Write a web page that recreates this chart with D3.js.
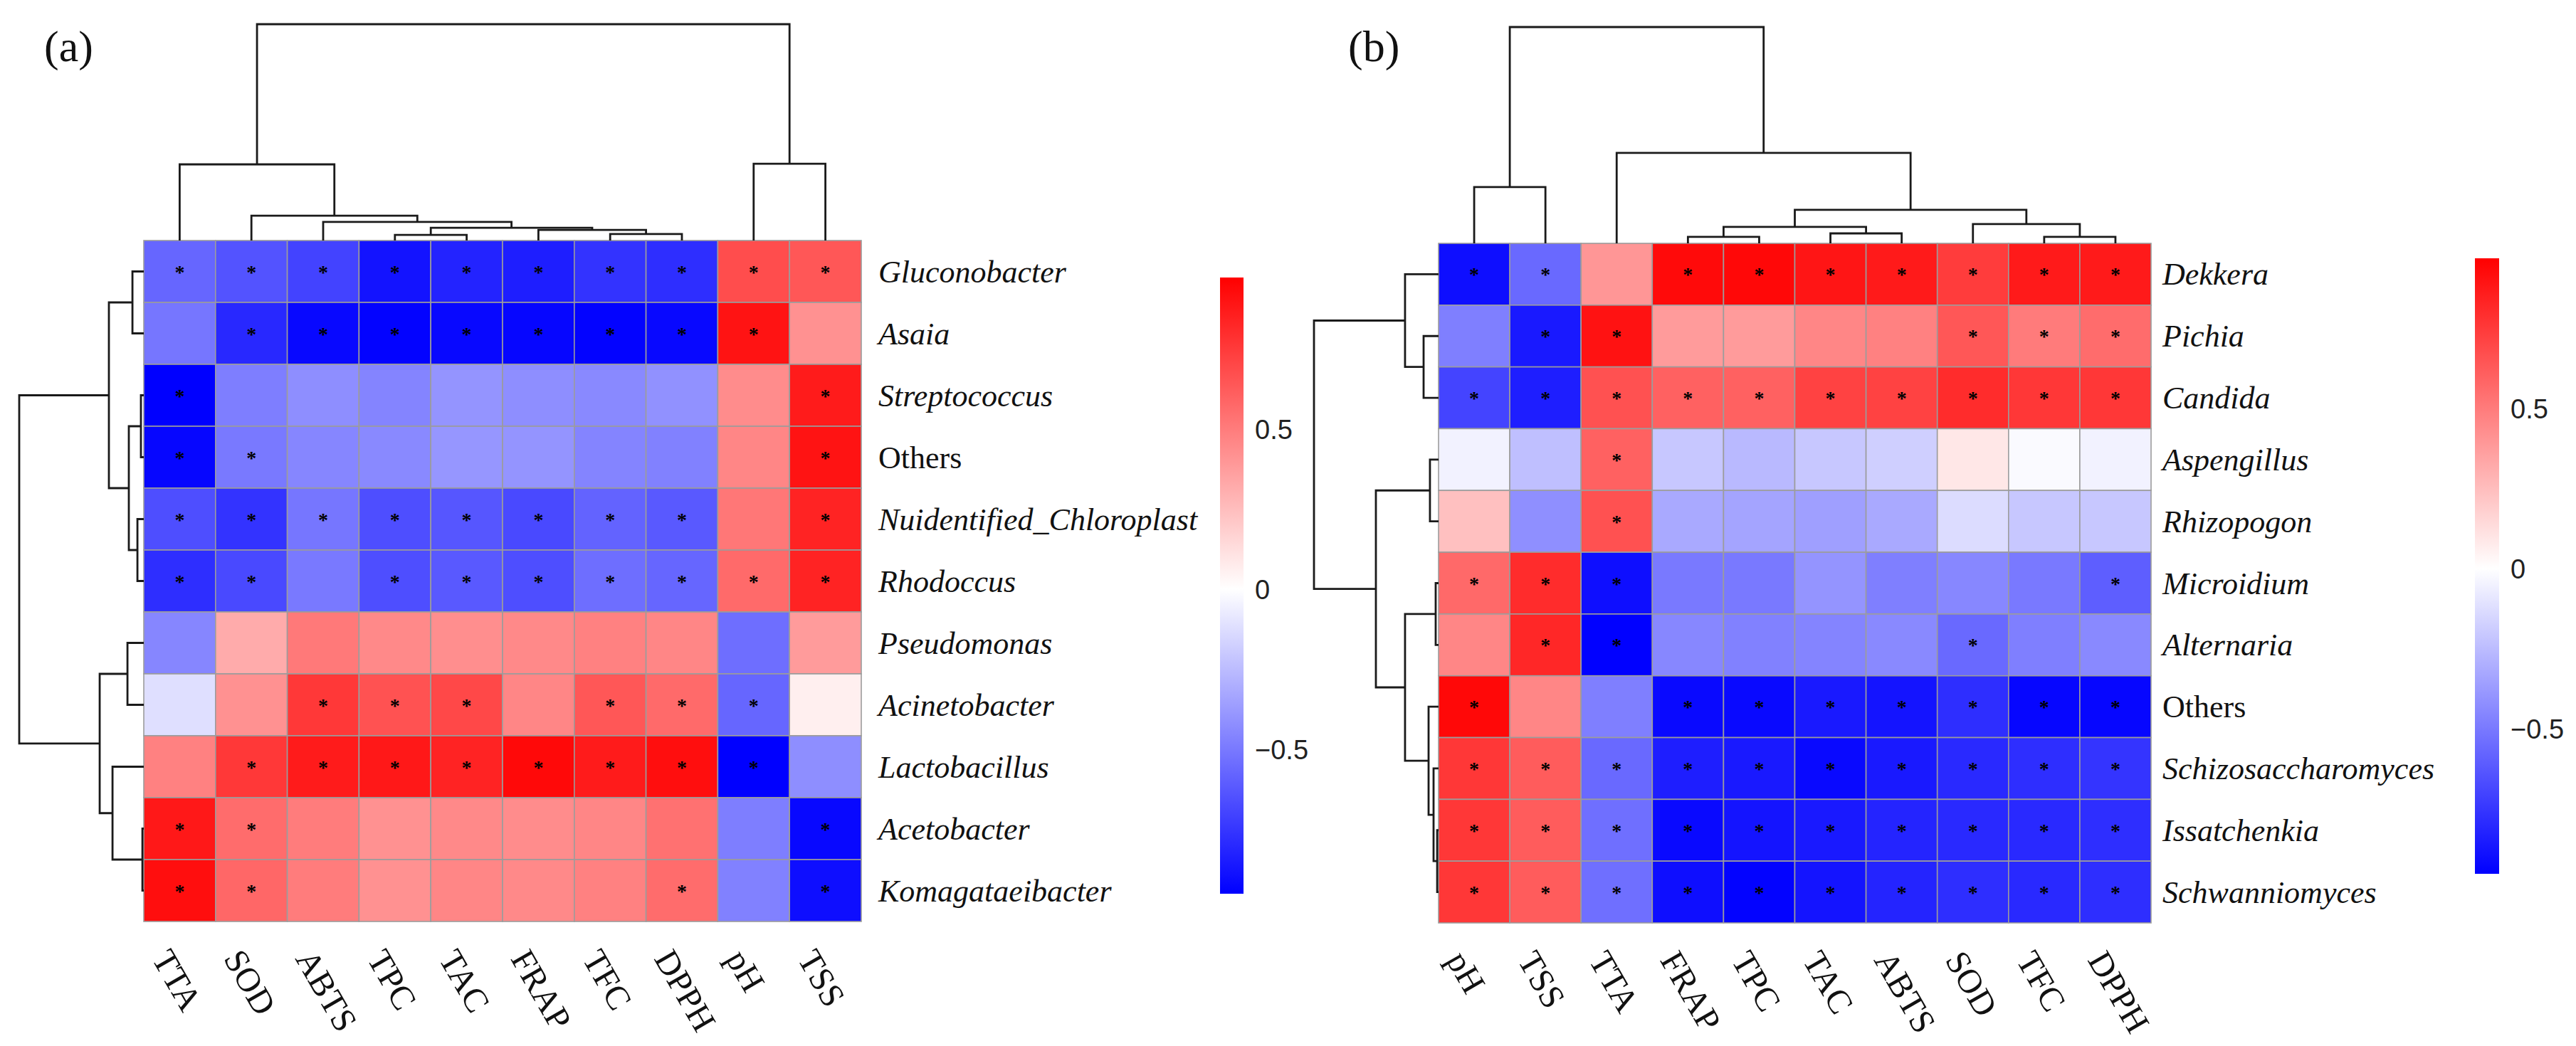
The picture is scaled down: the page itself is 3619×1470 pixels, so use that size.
<!DOCTYPE html>
<html>
<head>
<meta charset="utf-8">
<script src="https://cdn.jsdelivr.net/npm/d3@7"></script>
<style>
	html, body { margin: 0; padding: 0; background: #fff; }
	svg { display: block; }
</style>
</head>
<body>
<div id="chart"></div>
<script>
'use strict';

/*-- (a) bacteria --*/
var colsA = ['TTA', 'SOD', 'ABTS', 'TPC', 'TAC', 'FRAP', 'TFC', 'DPPH', 'pH', 'TSS'];
var rowsA = ['Gluconobacter', 'Asaia', 'Streptococcus', 'Others', 'Nuidentified_Chloroplast', 'Rhodoccus',
	'Pseudomonas', 'Acinetobacter', 'Lactobacillus', 'Acetobacter', 'Komagataeibacter'];
var valuesA = [
	[-0.57, -0.64, -0.70, -0.88, -0.82, -0.84, -0.76, -0.78, 0.68, 0.64],
	[-0.51, -0.80, -0.92, -0.94, -0.92, -0.93, -0.94, -0.92, 0.90, 0.42],
	[-0.95, -0.48, -0.42, -0.46, -0.40, -0.42, -0.44, -0.41, 0.44, 0.87],
	[-0.93, -0.50, -0.45, -0.44, -0.39, -0.40, -0.46, -0.47, 0.46, 0.90],
	[-0.66, -0.76, -0.51, -0.66, -0.63, -0.68, -0.58, -0.62, 0.52, 0.84],
	[-0.78, -0.68, -0.50, -0.66, -0.62, -0.66, -0.54, -0.57, 0.57, 0.84],
	[-0.45, 0.32, 0.51, 0.45, 0.43, 0.45, 0.48, 0.46, -0.54, 0.38],
	[-0.12, 0.42, 0.76, 0.66, 0.70, 0.46, 0.64, 0.57, -0.57, 0.06],
	[0.48, 0.76, 0.87, 0.88, 0.84, 0.94, 0.87, 0.92, -0.95, -0.42],
	[0.88, 0.56, 0.50, 0.42, 0.45, 0.44, 0.46, 0.54, -0.48, -0.92],
	[0.92, 0.58, 0.50, 0.42, 0.46, 0.45, 0.48, 0.56, -0.47, -0.90]
];
var starsA = [
	[1, 1, 1, 1, 1, 1, 1, 1, 1, 1],
	[0, 1, 1, 1, 1, 1, 1, 1, 1, 0],
	[1, 0, 0, 0, 0, 0, 0, 0, 0, 1],
	[1, 1, 0, 0, 0, 0, 0, 0, 0, 1],
	[1, 1, 1, 1, 1, 1, 1, 1, 0, 1],
	[1, 1, 0, 1, 1, 1, 1, 1, 1, 1],
	[0, 0, 0, 0, 0, 0, 0, 0, 0, 0],
	[0, 0, 1, 1, 1, 0, 1, 1, 1, 0],
	[0, 1, 1, 1, 1, 1, 1, 1, 1, 0],
	[1, 1, 0, 0, 0, 0, 0, 0, 0, 1],
	[1, 1, 0, 0, 0, 0, 0, 1, 0, 1]
];
// merge lists like hclust: [left, right, height]; negative = leaf (1-based), positive = earlier merge
var rowMergeA = [[-10, -11, 0.011], [-3, -4, 0.023], [-5, -6, 0.051], [-1, -2, 0.091], [2, 3, 0.12],
	[-7, -8, 0.131], [-9, 1, 0.251], [4, 5, 0.28], [6, 7, 0.354], [8, 9, 1]];
var colMergeA = [[-4, -5, 0.026], [-7, -8, 0.03], [-6, 2, 0.049], [1, 3, 0.059], [-3, 4, 0.086],
	[-2, 5, 0.115], [-1, 6, 0.352], [-9, -10, 0.355], [7, 8, 1]];
var legendA = [-0.951, 0.973];

/*-- (b) fungi --*/
var colsB = ['pH', 'TSS', 'TTA', 'FRAP', 'TPC', 'TAC', 'ABTS', 'SOD', 'TFC', 'DPPH'];
var rowsB = ['Dekkera', 'Pichia', 'Candida', 'Aspengillus', 'Rhizopogon', 'Microidium', 'Alternaria',
	'Others', 'Schizosaccharomyces', 'Issatchenkia', 'Schwanniomyces'];
var valuesB = [
	[-0.90, -0.56, 0.40, 0.93, 0.94, 0.89, 0.87, 0.74, 0.87, 0.87],
	[-0.48, -0.86, 0.90, 0.38, 0.38, 0.46, 0.48, 0.64, 0.50, 0.56],
	[-0.70, -0.84, 0.66, 0.60, 0.60, 0.72, 0.72, 0.80, 0.76, 0.76],
	[-0.05, -0.24, 0.60, -0.21, -0.26, -0.21, -0.18, 0.09, -0.02, -0.05],
	[0.24, -0.42, 0.66, -0.32, -0.34, -0.36, -0.32, -0.13, -0.21, -0.21],
	[0.57, 0.80, -0.90, -0.50, -0.50, -0.40, -0.48, -0.45, -0.50, -0.60],
	[0.46, 0.82, -0.95, -0.45, -0.47, -0.46, -0.44, -0.56, -0.48, -0.44],
	[0.94, 0.46, -0.48, -0.92, -0.92, -0.86, -0.88, -0.78, -0.93, -0.93],
	[0.76, 0.62, -0.56, -0.84, -0.86, -0.92, -0.86, -0.80, -0.78, -0.76],
	[0.76, 0.62, -0.54, -0.92, -0.88, -0.86, -0.82, -0.80, -0.80, -0.78],
	[0.76, 0.62, -0.54, -0.90, -0.94, -0.88, -0.82, -0.78, -0.80, -0.78]
];
var starsB = [
	[1, 1, 0, 1, 1, 1, 1, 1, 1, 1],
	[0, 1, 1, 0, 0, 0, 0, 1, 1, 1],
	[1, 1, 1, 1, 1, 1, 1, 1, 1, 1],
	[0, 0, 1, 0, 0, 0, 0, 0, 0, 0],
	[0, 0, 1, 0, 0, 0, 0, 0, 0, 0],
	[1, 1, 1, 0, 0, 0, 0, 0, 0, 1],
	[0, 1, 1, 0, 0, 0, 0, 1, 0, 0],
	[1, 0, 0, 1, 1, 1, 1, 1, 1, 1],
	[1, 1, 1, 1, 1, 1, 1, 1, 1, 1],
	[1, 1, 1, 1, 1, 1, 1, 1, 1, 1],
	[1, 1, 1, 1, 1, 1, 1, 1, 1, 1]
];
var rowMergeB = [[-10, -11, 0.011], [-6, -7, 0.023], [-9, 1, 0.04], [-4, -5, 0.069], [-8, 3, 0.08],
	[-2, -3, 0.12], [2, 5, 0.269], [-1, 6, 0.269], [4, 7, 0.503], [8, 9, 1]];
var colMergeB = [[-4, -5, 0.03], [-9, -10, 0.03], [-6, -7, 0.046], [1, 3, 0.076], [-8, 2, 0.089],
	[4, 5, 0.155], [-1, -2, 0.26], [-3, 6, 0.418], [7, 8, 1]];
var legendB = [-0.953, 0.969];

var legendTicks = [-0.5, 0, 0.5];

var W = 3619, H = 1470;
var SERIF = '"Liberation Serif", "Times New Roman", serif',
	SANS = '"Liberation Sans", Arial, sans-serif';

var svg = d3.select('#chart').append('svg')
	.attr('width', W)
	.attr('height', H)
	.style('background', '#fff');

// build node list from a merge list; each node keeps position along the axis and height
function buildTree(merge, leafPos) {
	var nodes = [];
	function get(i) {
		return i < 0 ? { p: leafPos(-i - 1), h: 0 } : nodes[i - 1];
	}
	merge.forEach(function (m) {
		var a = get(m[0]), b = get(m[1]);
		nodes.push({ p: (a.p + b.p) / 2, h: m[2], a: a, b: b });
	});
	return nodes;
}

function drawPanel(cfg) {
	var g = svg.append('g').attr('class', 'panel');
	var x = d3.scaleBand().domain(cfg.cols).range([cfg.left, cfg.right]);
	var y = d3.scaleBand().domain(cfg.rows).range([cfg.top, cfg.bottom]);
	var color = d3.scaleLinear()
		.domain([cfg.legend[0], 0, cfg.legend[1]])
		.range(['#0000ff', '#ffffff', '#ff0000'])
		.clamp(true);

	var cells = [];
	cfg.values.forEach(function (row, i) {
		row.forEach(function (v, j) {
			cells.push({ r: cfg.rows[i], c: cfg.cols[j], v: v, s: cfg.stars[i][j] });
		});
	});

	// heatmap cells
	g.append('g').selectAll('rect')
		.data(cells)
		.join('rect')
		.attr('x', function (d) { return x(d.c); })
		.attr('y', function (d) { return y(d.r); })
		.attr('width', x.bandwidth())
		.attr('height', y.bandwidth())
		.attr('fill', function (d) { return color(d.v); })
		.attr('stroke', '#9c9c9c')
		.attr('stroke-width', 1.6);

	// significance marks
	g.append('g').selectAll('text')
		.data(cells.filter(function (d) { return d.s; }))
		.join('text')
		.attr('x', function (d) { return x(d.c) + x.bandwidth() / 2; })
		.attr('y', function (d) { return y(d.r) + y.bandwidth() / 2 + 10; })
		.attr('text-anchor', 'middle')
		.style('font-family', SERIF)
		.style('font-size', '28px')
		.style('font-weight', 'bold')
		.style('fill', '#000')
		.text('*');

	// column dendrogram (top)
	var hCol = d3.scaleLinear().domain([0, 1]).range([cfg.top, cfg.colTop]);
	var colNodes = buildTree(cfg.colMerge, function (i) { return x(cfg.cols[i]) + x.bandwidth() / 2; });
	g.append('g').selectAll('path')
		.data(colNodes)
		.join('path')
		.attr('d', function (d) {
			return 'M' + d.a.p + ',' + hCol(d.a.h) + 'V' + hCol(d.h) + 'H' + d.b.p + 'V' + hCol(d.b.h);
		})
		.attr('fill', 'none')
		.attr('stroke', '#1a1a1a')
		.attr('stroke-width', 2.8);

	// row dendrogram (left)
	var hRow = d3.scaleLinear().domain([0, 1]).range([cfg.left, cfg.rowLeft]);
	var rowNodes = buildTree(cfg.rowMerge, function (i) { return y(cfg.rows[i]) + y.bandwidth() / 2; });
	g.append('g').selectAll('path')
		.data(rowNodes)
		.join('path')
		.attr('d', function (d) {
			return 'M' + hRow(d.a.h) + ',' + d.a.p + 'H' + hRow(d.h) + 'V' + d.b.p + 'H' + hRow(d.b.h);
		})
		.attr('fill', 'none')
		.attr('stroke', '#1a1a1a')
		.attr('stroke-width', 2.8);

	// row labels
	g.append('g').selectAll('text')
		.data(cfg.rows)
		.join('text')
		.attr('x', cfg.right + cfg.labelGap)
		.attr('y', function (d) { return y(d) + y.bandwidth() / 2 + 15; })
		.style('font-family', SERIF)
		.style('font-size', '44px')
		.style('font-style', function (d) { return d === 'Others' ? 'normal' : 'italic'; })
		.style('fill', '#111')
		.text(function (d) { return d; });

	// column labels, rotated
	g.append('g').selectAll('text')
		.data(cfg.cols)
		.join('text')
		.attr('transform', function (d) {
			return 'translate(' + (x(d) + x.bandwidth() / 2 - 40) + ',' + (cfg.bottom + 52) + ') rotate(60)';
		})
		.style('font-family', SERIF)
		.style('font-size', '48px')
		.style('fill', '#111')
		.text(function (d) { return d; });

	// colour key
	var gid = 'grad-' + cfg.id;
	var ky = d3.scaleLinear().domain(cfg.legend).range([cfg.keyBottom, cfg.keyTop]);
	var grad = svg.append('defs').append('linearGradient')
		.attr('id', gid)
		.attr('x1', 0).attr('y1', 1).attr('x2', 0).attr('y2', 0);
	[cfg.legend[0], 0, cfg.legend[1]].forEach(function (v) {
		grad.append('stop')
			.attr('offset', (v - cfg.legend[0]) / (cfg.legend[1] - cfg.legend[0]))
			.attr('stop-color', color(v));
	});
	g.append('rect')
		.attr('x', cfg.keyX)
		.attr('y', cfg.keyTop)
		.attr('width', cfg.keyW)
		.attr('height', cfg.keyBottom - cfg.keyTop)
		.attr('fill', 'url(#' + gid + ')');
	g.append('g').selectAll('text')
		.data(legendTicks)
		.join('text')
		.attr('x', cfg.keyX + cfg.keyW + 16)
		.attr('y', function (d) { return ky(d); })
		.attr('dy', '0.36em')
		.style('font-family', SANS)
		.style('font-size', '38px')
		.style('fill', '#222')
		.text(function (d) { return d < 0 ? '\u2212' + Math.abs(d) : String(d); });

	// panel tag
	g.append('text')
		.attr('x', cfg.tagX)
		.attr('y', 86)
		.style('font-family', SERIF)
		.style('font-size', '62px')
		.style('fill', '#111')
		.text(cfg.tag);
}

drawPanel({
	id: 'a', tag: '(a)', tagX: 62,
	cols: colsA, rows: rowsA, values: valuesA, stars: starsA,
	rowMerge: rowMergeA, colMerge: colMergeA, legend: legendA,
	left: 202, right: 1210, top: 338, bottom: 1295,
	colTop: 34, rowLeft: 27, labelGap: 24,
	keyX: 1714, keyW: 33, keyTop: 390, keyBottom: 1256
});

drawPanel({
	id: 'b', tag: '(b)', tagX: 1894,
	cols: colsB, rows: rowsB, values: valuesB, stars: starsB,
	rowMerge: rowMergeB, colMerge: colMergeB, legend: legendB,
	left: 2021, right: 3022, top: 342, bottom: 1297,
	colTop: 38, rowLeft: 1846, labelGap: 16,
	keyX: 3477, keyW: 34, keyTop: 363, keyBottom: 1228
});
</script>
</body>
</html>
